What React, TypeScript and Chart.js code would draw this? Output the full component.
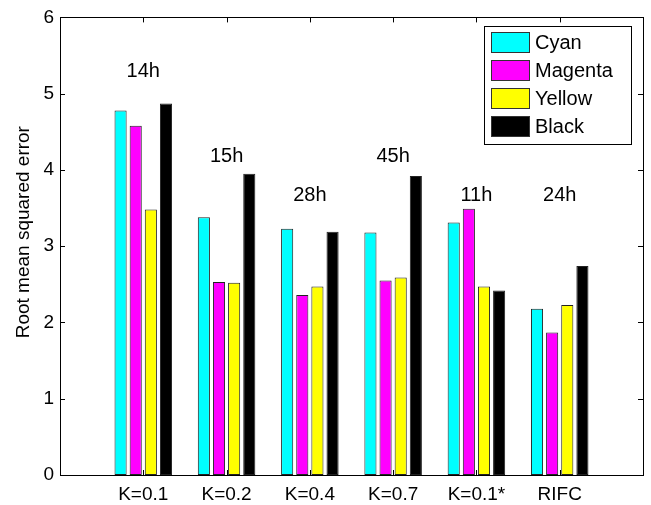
import { useEffect, useRef } from 'react';
import { Chart, registerables } from 'chart.js';

Chart.register(...registerables);

// Error per colour channel for each method
const categories = ['K=0.1', 'K=0.2', 'K=0.4', 'K=0.7', 'K=0.1*', 'RIFC'];
const cyanValues = [4.78, 3.38, 3.23, 3.18, 3.31, 2.18];
const magentaValues = [4.58, 2.53, 2.36, 2.55, 3.49, 1.87];
const yellowValues = [3.48, 2.52, 2.47, 2.59, 2.47, 2.23];
const blackValues = [4.87, 3.95, 3.19, 3.92, 2.42, 2.74];

// Run time of each method, written above its group
const runTimes = ['14h', '15h', '28h', '45h', '11h', '24h'];
const runTimeHeights = [5.29, 4.18, 3.66, 4.18, 3.66, 3.66];

const yMin = 0;
const yMax = 6;
const yTitle = 'Root mean squared error';

const FONT = '"Liberation Sans", Arial, Helvetica, sans-serif';

const seriesNames = ['Cyan', 'Magenta', 'Yellow', 'Black'];
const seriesColors = ['#00ffff', '#ff00ff', '#ffff00', '#000000'];
const seriesValues = [cyanValues, magentaValues, yellowValues, blackValues];

// Box around the axes with inward tick marks on all four sides
const framePlugin = {
  id: 'frame',
  afterDraw(chart: any) {
    const { ctx, chartArea: ca } = chart;
    const xs = chart.scales.x;
    const ys = chart.scales.y;
    const tick = 5;
    ctx.save();
    ctx.strokeStyle = '#000';
    ctx.lineWidth = 1;
    ctx.beginPath();
    for (let i = 1; i <= categories.length; i++) {
      const px = Math.round(xs.getPixelForValue(i)) + 0.5;
      ctx.moveTo(px, ca.bottom);
      ctx.lineTo(px, ca.bottom - tick);
      ctx.moveTo(px, ca.top);
      ctx.lineTo(px, ca.top + tick);
    }
    for (let v = yMin; v <= yMax; v++) {
      const py = Math.round(ys.getPixelForValue(v)) + 0.5;
      ctx.moveTo(ca.left, py);
      ctx.lineTo(ca.left + tick, py);
      ctx.moveTo(ca.right, py);
      ctx.lineTo(ca.right - tick, py);
    }
    ctx.stroke();
    ctx.strokeRect(
      Math.round(ca.left) + 0.5,
      Math.round(ca.top) + 0.5,
      Math.round(ca.right - ca.left),
      Math.round(ca.bottom - ca.top)
    );
    ctx.restore();
  },
};

// Vertical axis title, slightly above the axis centre
const yTitlePlugin = {
  id: 'yTitle',
  afterDraw(chart: any) {
    const { ctx, chartArea: ca } = chart;
    ctx.save();
    ctx.translate(24, (ca.top + ca.bottom) / 2 - 14);
    ctx.rotate(-Math.PI / 2);
    ctx.fillStyle = '#000';
    ctx.font = `19px ${FONT}`;
    ctx.textAlign = 'center';
    ctx.textBaseline = 'middle';
    ctx.fillText(yTitle, 0, 0);
    ctx.restore();
  },
};

// Run-time labels centred above each group
const runTimePlugin = {
  id: 'runTimes',
  afterDatasetsDraw(chart: any) {
    const { ctx } = chart;
    const xs = chart.scales.x;
    const ys = chart.scales.y;
    ctx.save();
    ctx.fillStyle = '#000';
    ctx.font = `20px ${FONT}`;
    ctx.textAlign = 'center';
    ctx.textBaseline = 'middle';
    runTimes.forEach((t, i) => {
      ctx.fillText(t, xs.getPixelForValue(i + 1), ys.getPixelForValue(runTimeHeights[i]));
    });
    ctx.restore();
  },
};

// Boxed legend in the upper right corner of the axes
const boxLegendPlugin = {
  id: 'boxLegend',
  afterDraw(chart: any) {
    const { ctx, chartArea: ca } = chart;
    const w = 147;
    const h = 118;
    const left = Math.round(ca.right - 12 - w);
    const top = Math.round(ca.top + 9);
    ctx.save();
    ctx.fillStyle = '#fff';
    ctx.fillRect(left, top, w, h);
    ctx.strokeStyle = '#000';
    ctx.lineWidth = 1;
    ctx.strokeRect(left + 0.5, top + 0.5, w, h);
    ctx.font = `20px ${FONT}`;
    ctx.textAlign = 'left';
    ctx.textBaseline = 'middle';
    chart.data.datasets.forEach((ds: any, i: number) => {
      const sy = top + 6 + i * 28;
      ctx.fillStyle = ds.backgroundColor;
      ctx.fillRect(left + 7, sy, 39, 21);
      ctx.strokeStyle = '#333';
      ctx.strokeRect(left + 7.5, sy + 0.5, 38, 20);
      ctx.fillStyle = '#000';
      ctx.fillText(ds.label, left + 51, sy + 11);
    });
    ctx.restore();
  },
};

export default function App() {
  const canvasRef = useRef<HTMLCanvasElement | null>(null);

  useEffect(() => {
    const canvas = canvasRef.current;
    if (!canvas) return;

    Chart.defaults.font.family = FONT;
    Chart.defaults.color = '#000';

    const chart = new Chart(canvas, {
      type: 'bar',
      data: {
        datasets: seriesNames.map((name, s) => ({
          label: name,
          data: seriesValues[s].map((v, i) => ({ x: i + 1, y: v })),
          backgroundColor: seriesColors[s],
          borderColor: '#222',
          borderWidth: 1,
          borderSkipped: false,
          categoryPercentage: 0.727,
          barPercentage: 0.8,
        })),
      },
      options: {
        responsive: false,
        animation: false,
        events: [],
        layout: { padding: { left: 0, top: 13, right: 5, bottom: 0 } },
        plugins: {
          legend: { display: false },
          tooltip: { enabled: false },
        },
        scales: {
          x: {
            type: 'linear',
            min: 0,
            max: categories.length + 1,
            offset: false,
            grid: { display: false, drawTicks: false },
            border: { display: false },
            ticks: {
              stepSize: 1,
              autoSkip: false,
              maxRotation: 0,
              padding: 8,
              font: { size: 19 },
              callback: (value: any) => {
                const idx = Number(value) - 1;
                return idx >= 0 && idx < categories.length ? categories[idx] : '';
              },
            },
            afterFit: (scale: any) => {
              scale.height = 30;
            },
          },
          y: {
            min: yMin,
            max: yMax,
            grid: { display: false, drawTicks: false },
            border: { display: false },
            ticks: { stepSize: 1, padding: 6, font: { size: 19 } },
            afterFit: (scale: any) => {
              scale.width = 60;
            },
          },
        },
      },
      plugins: [framePlugin, yTitlePlugin, runTimePlugin, boxLegendPlugin],
    });

    return () => chart.destroy();
  }, []);

  return (
    <div style={{ position: 'fixed', left: 0, top: 0, width: 651, height: 505, background: '#fff' }}>
      <canvas ref={canvasRef} width={651} height={505} />
    </div>
  );
}
